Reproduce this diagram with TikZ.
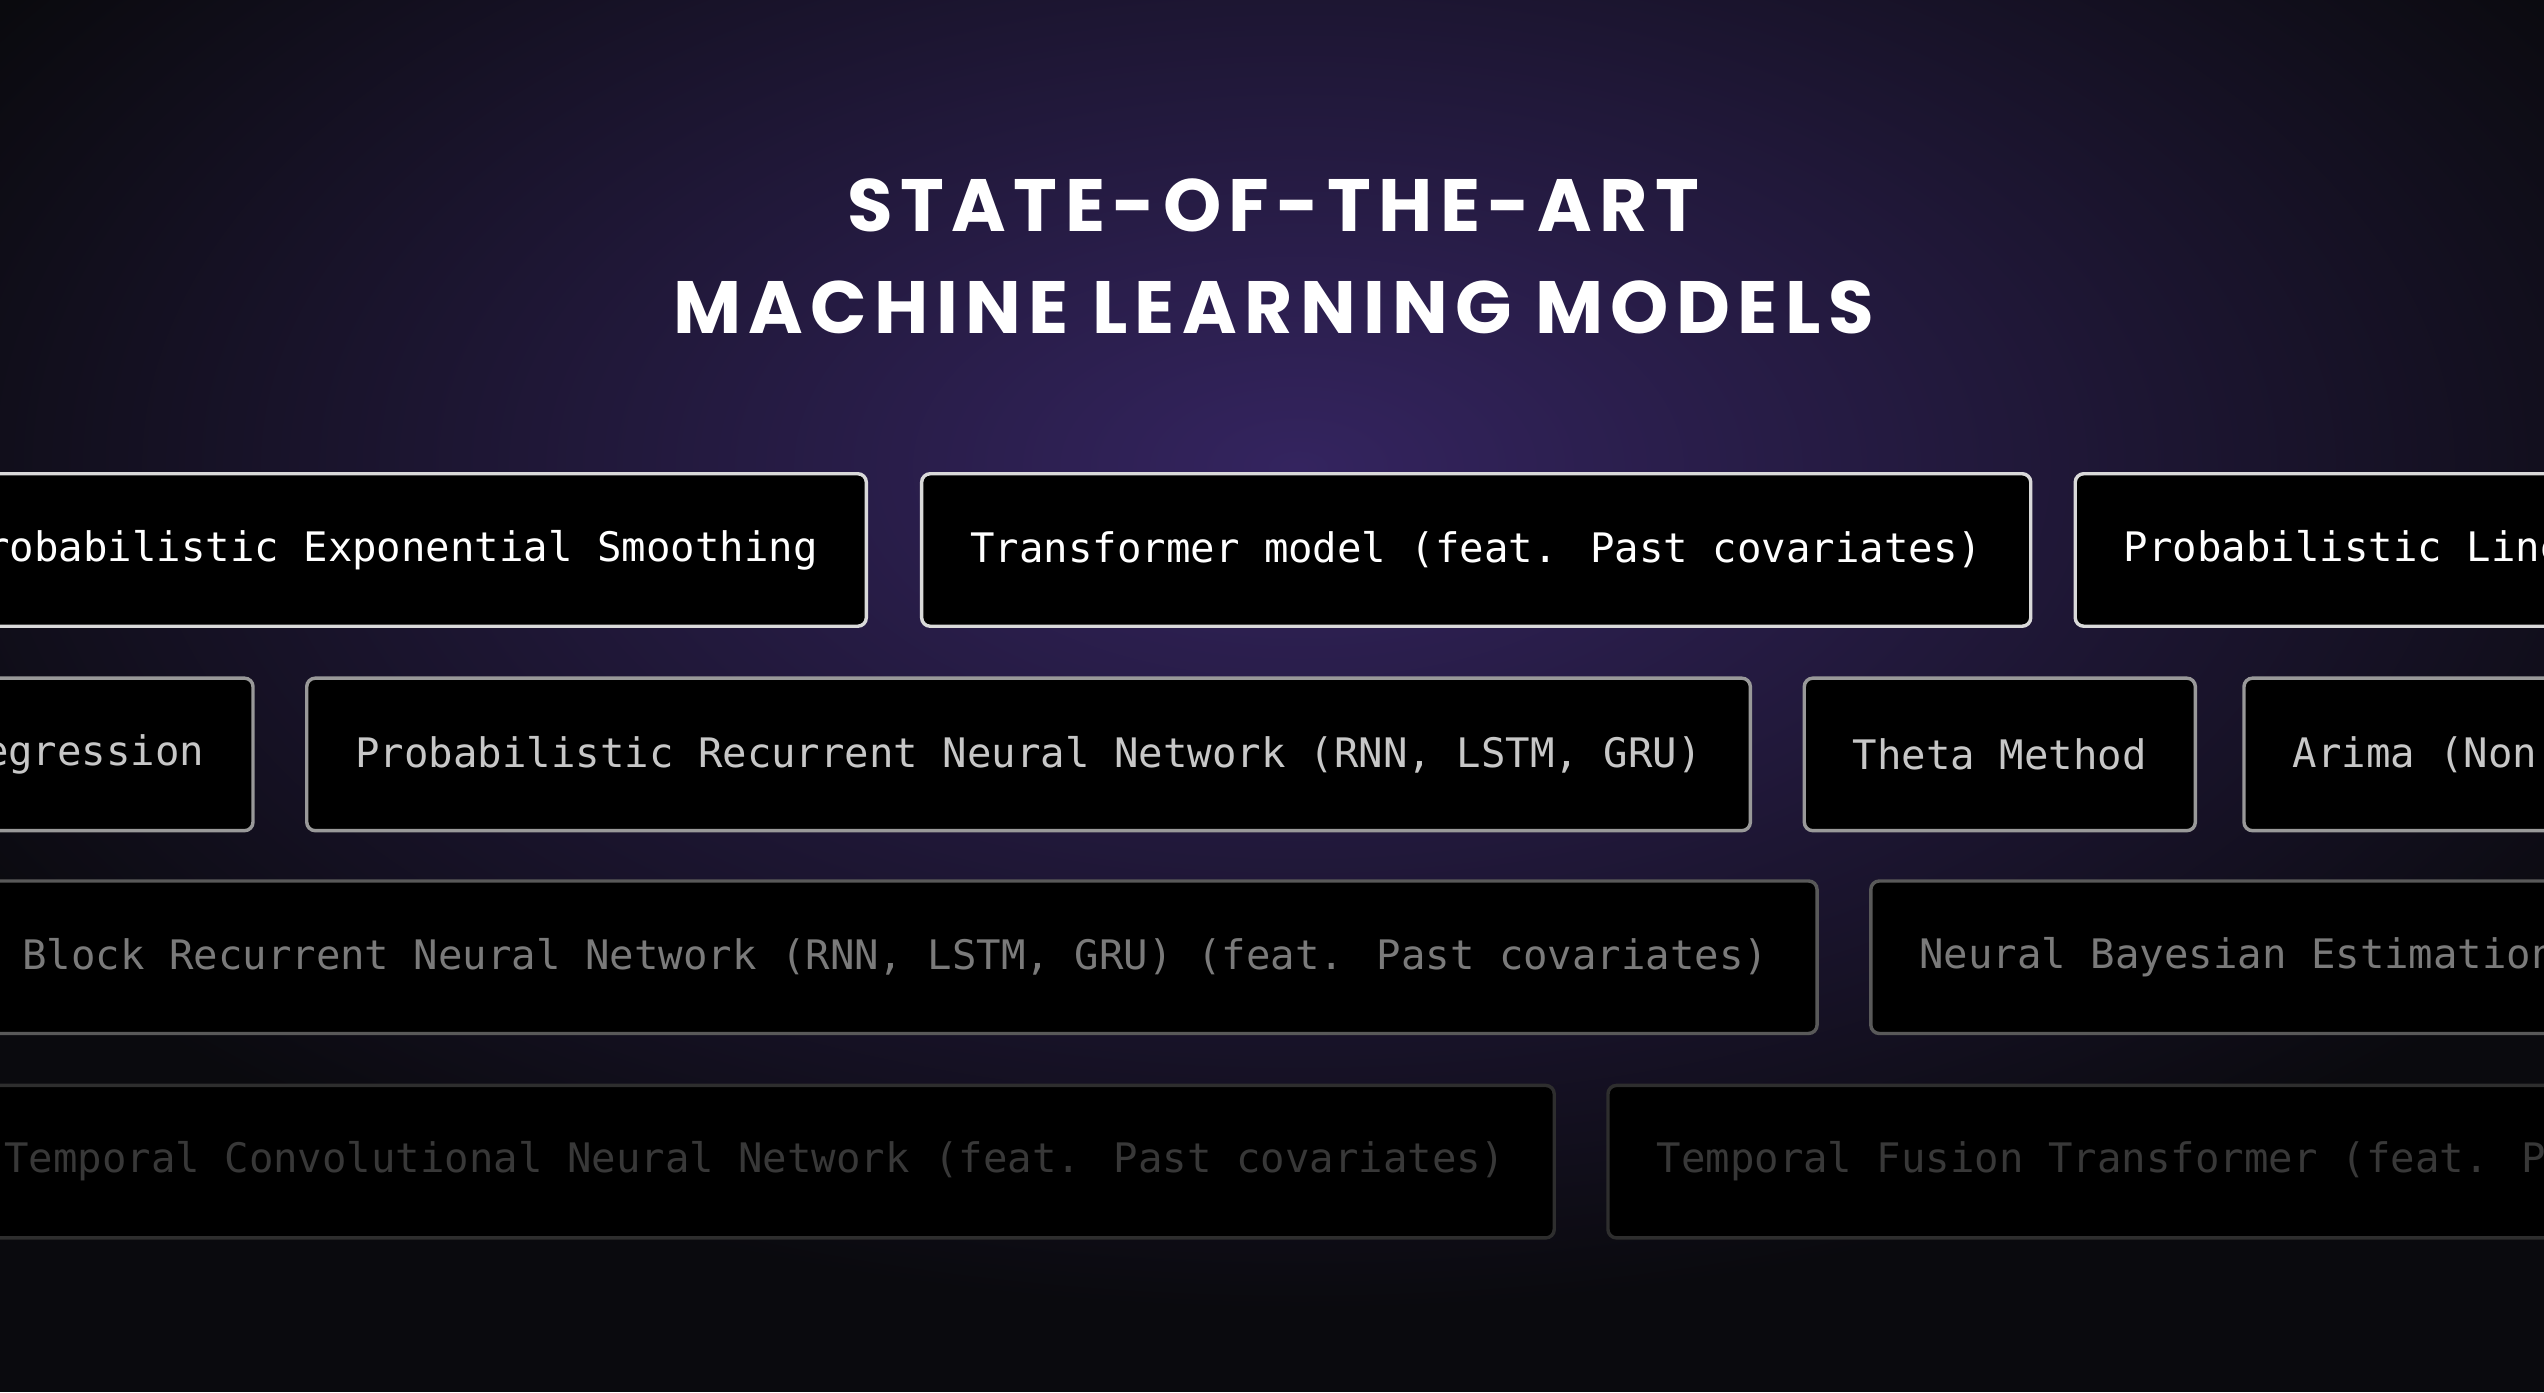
\documentclass[tikz,border=0pt]{standalone}
\usepackage{fontspec}
\newfontfamily\boxfont{DejaVu Sans Mono}
\newfontfamily\titlefont{Poppins}[LetterSpace=10]
\definecolor{bgc}{HTML}{0A0A0E}
\definecolor{glow}{HTML}{34245F}
\tikzset{
  mbox/.style={draw, fill=black, rounded corners=1.5pt, line width=0.6pt, minimum height=0.94cm,
    inner xsep=0.30cm, font=\boxfont\fontsize{7.13}{8}\selectfont},
  rowa/.style={mbox, draw=white!85!black, text=white},
  rowb/.style={mbox, draw=white!60!black, text=white!78!black},
  rowc/.style={mbox, draw=white!35!black, text=white!48!black},
  rowd/.style={mbox, draw=white!18!black, text=white!22!black},
}
\begin{document}
\begin{tikzpicture}
\useasboundingbox (0,0) rectangle (15.68,8.58);
\begin{scope}
\clip (0,0) rectangle (15.68,8.58);
\fill[bgc] (0,0) rectangle (15.68,8.58);
\shade[inner color=glow, outer color=bgc] (8.0,5.7) ellipse (9.5 and 5.2);
\node[rowa, anchor=east] (r1a) at (5.35,5.19) {Probabilistic Exponential Smoothing};
\node[rowa, anchor=west] (r1b) at (5.67,5.19) {Transformer model (feat. Past covariates)};
\node[rowa, anchor=west] (r1c) at (12.78,5.19) {Probabilistic Linear Regression};
\node[rowb, anchor=east] (r2a) at (1.57,3.93) {Linear Regression};
\node[rowb, anchor=west] (r2b) at (1.88,3.93) {Probabilistic Recurrent Neural Network (RNN, LSTM, GRU)};
\node[rowb, anchor=west] (r2c) at (11.11,3.93) {Theta Method};
\node[rowb, anchor=west] (r2d) at (13.82,3.93) {Arima (Non-Seasonal)};
\node[rowc, anchor=east] (r3a) at (11.21,2.68) {Block Recurrent Neural Network (RNN, LSTM, GRU) (feat. Past covariates)};
\node[rowc, anchor=west] (r3b) at (11.52,2.68) {Neural Bayesian Estimation};
\node[rowd, anchor=east] (r4a) at (9.59,1.42) {Temporal Convolutional Neural Network (feat. Past covariates)};
\node[rowd, anchor=west] (r4b) at (9.90,1.42) {Temporal Fusion Transformer (feat. Past covariates)};
\end{scope}
\node[text=white, font=\titlefont\bfseries\fontsize{13}{17}\selectfont, align=center] (title) at (7.85,7.00)
  {STATE-OF-THE-ART\\[1pt]MACHINE LEARNING MODELS};
\end{tikzpicture}
\end{document}
